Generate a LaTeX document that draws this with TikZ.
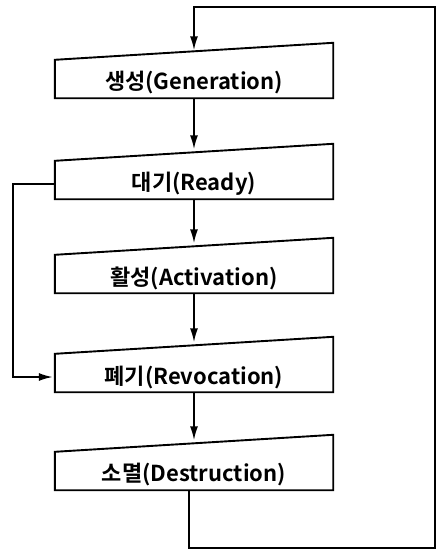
\documentclass[tikz,border=0pt]{standalone}
\usepackage{fontspec}
\setmainfont{Noto Sans CJK KR}[BoldFont={* Bold}]
\usetikzlibrary{arrows.meta,calc}

\tikzset{
  stage/.style={draw=none, inner sep=0pt, minimum width=278pt, minimum height=30pt,
    font=\fontsize{22}{24}\selectfont\bfseries},
  stageline/.style={line width=1.9pt, line join=miter},
  flow/.style={line width=1.8pt, -{Latex[length=14pt,width=8pt]}}
}

\begin{document}
\begin{tikzpicture}[x=1pt, y=-1pt]
\useasboundingbox (0,0) rectangle (439,550);
\node[stage] (gen) at (194,83) {생성(Generation)};
\node[stage] (rdy) at (194,184) {대기(Ready)};
\node[stage] (act) at (194,278) {활성(Activation)};
\node[stage] (rev) at (194,377) {폐기(Revocation)};
\node[stage] (des) at (194,475) {소멸(Destruction)};
% slanted outlines
\foreach \n in {gen,rdy,act,rev,des} {
  \draw[stageline] (\n.south west) -- (\n.south east) -- ($(\n.north east)+(0,-25)$)
    -- ($(\n.north west)+(0,-8)$) -- cycle;
  \coordinate (\n-top) at ($(\n.north)+(0,-16.5)$);
}
\coordinate (des-out) at ($(des.south)+(-5,0)$);
\coordinate (back-bot) at (435,548);
\coordinate (back-top) at (435,7);
\draw[flow, shorten >=3pt] (gen.south) -- (rdy-top);
\draw[flow, shorten >=3pt] (rdy.south) -- (act-top);
\draw[flow, shorten >=3pt] (act.south) -- (rev-top);
\draw[flow, shorten >=3pt] (rev.south) -- (des-top);
\draw[flow, shorten >=2pt] (rdy.west) -- ++(-42,0) |- (rev.west);
\draw[flow, shorten >=1pt] (des-out) |- (back-bot) -- (back-top) -| (gen-top);
\end{tikzpicture}
\end{document}
